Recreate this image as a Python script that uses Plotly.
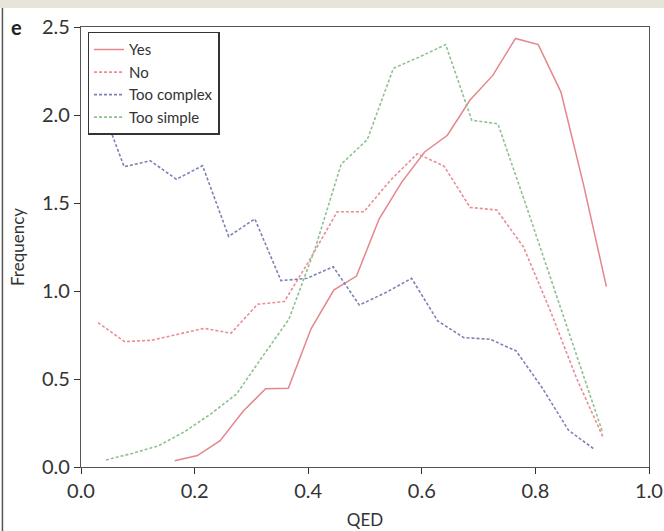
import plotly.graph_objects as go

# ---- data ----
yes_x = [0.165, 0.205, 0.245, 0.285, 0.325, 0.365, 0.405, 0.445, 0.485, 0.525,
         0.565, 0.605, 0.645, 0.685, 0.725, 0.765, 0.805, 0.845, 0.885, 0.925]
yes_y = [0.035, 0.065, 0.15, 0.315, 0.445, 0.447, 0.785, 1.005, 1.085, 1.41,
         1.62, 1.79, 1.885, 2.085, 2.225, 2.435, 2.40, 2.13, 1.60, 1.025]

no_x = [0.030, 0.077, 0.124, 0.171, 0.217, 0.264, 0.311, 0.358, 0.405, 0.451,
        0.498, 0.545, 0.592, 0.639, 0.685, 0.732, 0.779, 0.826, 0.873, 0.920]
no_y = [0.82, 0.712, 0.72, 0.755, 0.788, 0.76, 0.925, 0.94, 1.19, 1.45,
        1.45, 1.63, 1.78, 1.71, 1.475, 1.46, 1.25, 0.89, 0.50, 0.163]

complex_x = [0.030, 0.076, 0.122, 0.168, 0.214, 0.260, 0.306, 0.352, 0.398, 0.444,
             0.490, 0.536, 0.582, 0.628, 0.674, 0.720, 0.766, 0.812, 0.858, 0.904]
complex_y = [2.10, 1.706, 1.74, 1.635, 1.712, 1.31, 1.41, 1.059, 1.072, 1.138,
             0.92, 0.99, 1.072, 0.83, 0.735, 0.726, 0.66, 0.45, 0.21, 0.10]

simple_x = [0.044, 0.090, 0.136, 0.182, 0.228, 0.274, 0.320, 0.366, 0.412, 0.458,
            0.504, 0.550, 0.596, 0.642, 0.688, 0.734, 0.780, 0.826, 0.872, 0.918]
simple_y = [0.04, 0.077, 0.12, 0.20, 0.30, 0.415, 0.63, 0.84, 1.24, 1.72,
            1.86, 2.265, 2.33, 2.40, 1.97, 1.95, 1.52, 1.08, 0.64, 0.20]

x_ticks = [0.0, 0.2, 0.4, 0.6, 0.8, 1.0]
y_ticks = [0.0, 0.5, 1.0, 1.5, 2.0, 2.5]

FONT = "Lato, 'Open Sans', sans-serif"
TXT = "#333333"

fig = go.Figure()
dash = "3px,2px"
fig.add_trace(go.Scatter(x=yes_x, y=yes_y, mode="lines", name="Yes",
                         line=dict(color="#e5868b", width=1.5)))
fig.add_trace(go.Scatter(x=no_x, y=no_y, mode="lines", name="No",
                         line=dict(color="#e98e94", width=1.6, dash=dash)))
fig.add_trace(go.Scatter(x=complex_x, y=complex_y, mode="lines", name="Too complex",
                         line=dict(color="#7d81b6", width=1.6, dash=dash)))
fig.add_trace(go.Scatter(x=simple_x, y=simple_y, mode="lines", name="Too simple",
                         line=dict(color="#90c090", width=1.6, dash=dash)))

axis_common = dict(showgrid=False, zeroline=False, showline=True, linecolor="#555555",
                   linewidth=1.3, mirror=True, ticks="outside", ticklen=6,
                   tickcolor="#333333", tickwidth=1.2, automargin=False,
                   tickfont=dict(family=FONT, size=20, color=TXT))

fig.update_layout(
    width=664, height=531,
    margin=dict(l=81, r=15, t=27, b=64),
    paper_bgcolor="white", plot_bgcolor="white",
    font=dict(family=FONT, color=TXT),
    xaxis=dict(range=[0, 1], tickvals=x_ticks, ticktext=[f"{v:.1f}" for v in x_ticks],
               title=dict(text="QED", font=dict(family=FONT, size=17, color=TXT), standoff=12),
               **axis_common),
    yaxis=dict(range=[0, 2.5], tickvals=y_ticks, ticktext=[f"{v:.1f}" for v in y_ticks],
               title=dict(text="Frequency", font=dict(family=FONT, size=17, color=TXT), standoff=12),
               **axis_common),
    legend=dict(x=0.0115, y=0.989, xanchor="left", yanchor="top",
                bgcolor="white", bordercolor="#333333", borderwidth=1.5,
                font=dict(family=FONT, size=15, color=TXT),
                itemwidth=30, tracegroupgap=0),
    showlegend=True,
)

# panel letter
fig.add_annotation(text="<b>e</b>", xref="paper", yref="paper", x=-0.127, y=1.0,
                   xanchor="left", yanchor="middle", showarrow=False,
                   font=dict(family=FONT, size=20, color="#222222"))

# top beige band and left frame line
fig.add_shape(type="rect", xref="paper", yref="paper", x0=-0.2, x1=1.1,
              y0=1.0 + 19/440, y1=1.0 + 40/440, fillcolor="#e7e5da", line_width=0, layer="below")
fig.add_shape(type="line", xref="paper", yref="paper", x0=-78.5/567.5, x1=-78.5/567.5,
              y0=-70/440, y1=1.0 + 19/440, line=dict(color="#555555", width=1.5))

fig.write_html("out.html", config={"displayModeBar": False},
               post_script="document.body.style.margin='0';document.body.style.padding='0';"
                           "document.body.style.overflow='hidden';")
